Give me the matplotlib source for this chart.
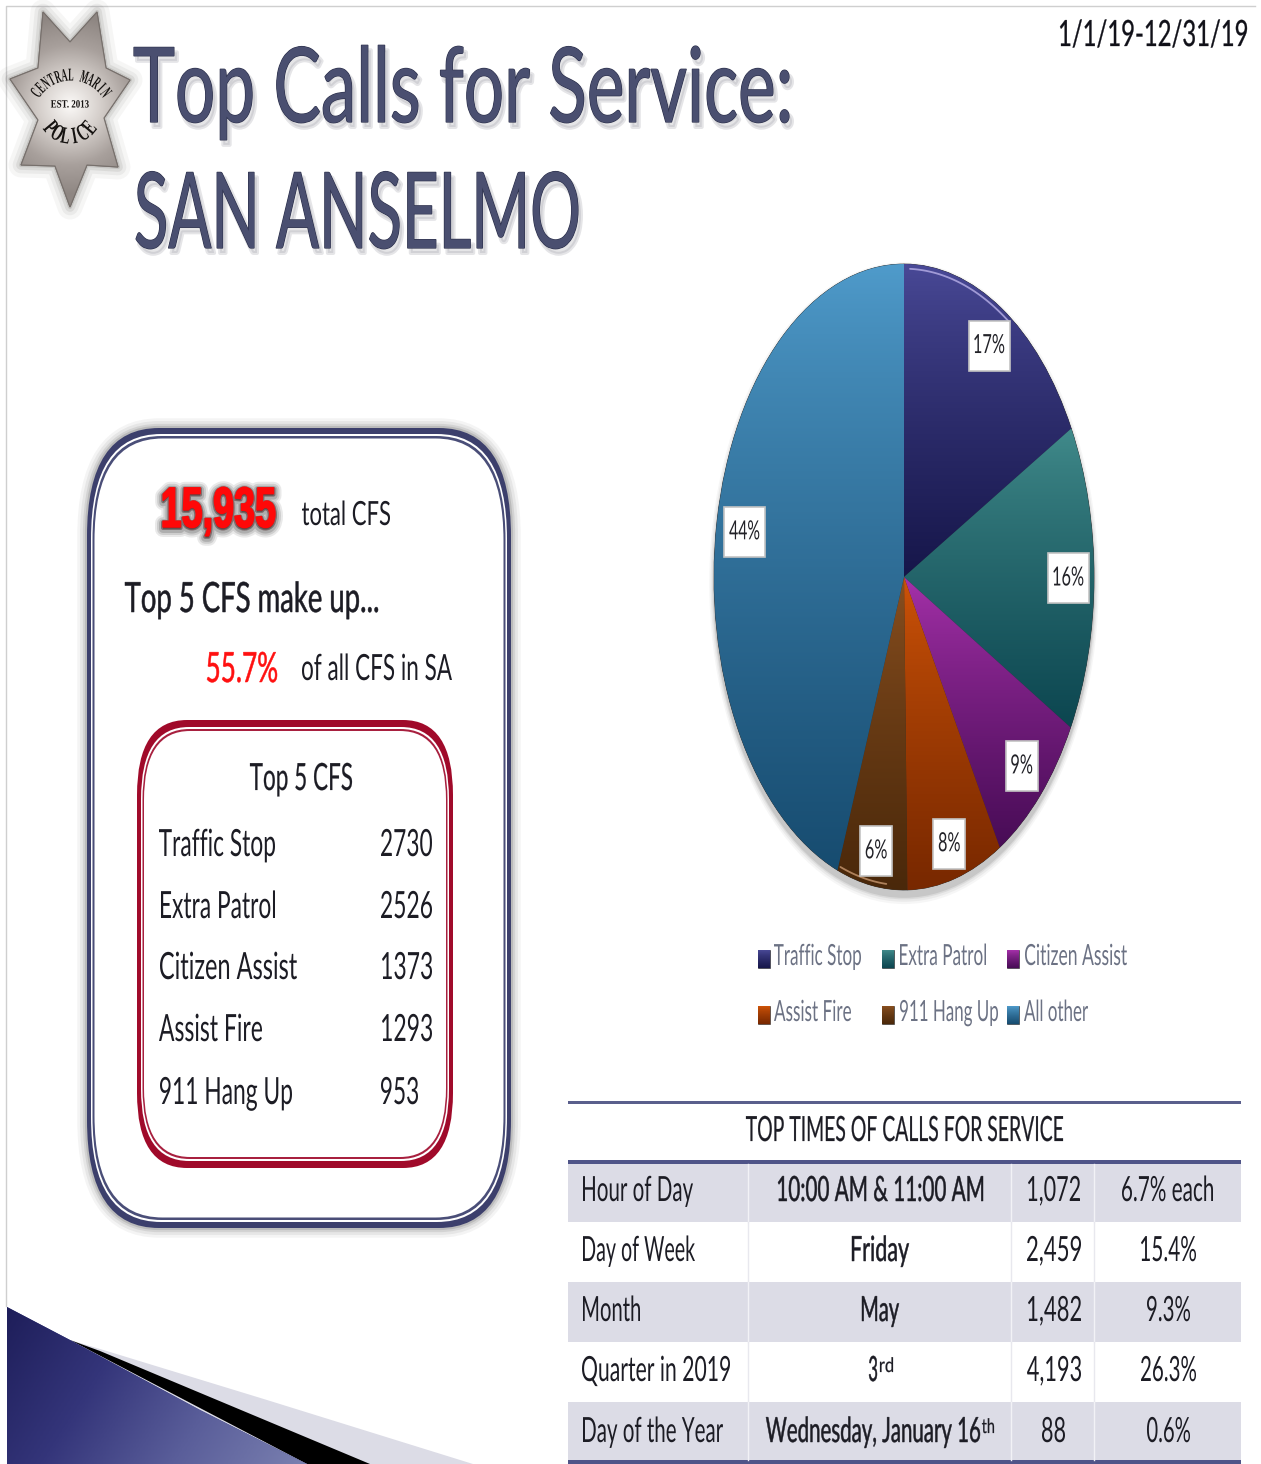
# recreating the san anselmo calls for service slide

import numpy as np
import matplotlib
matplotlib.use('Agg')
import matplotlib.pyplot as plt
from matplotlib.colors import LinearSegmentedColormap, to_rgba
from matplotlib.patches import FancyBboxPatch, Polygon, Rectangle, Ellipse
from matplotlib.patheffects import AbstractPathEffect
from matplotlib.transforms import Affine2D, Bbox

# data

cfs_names = ['Traffic Stop', 'Extra Patrol', 'Citizen Assist', 'Assist Fire', '911 Hang Up']
cfs_counts = [2730, 2526, 1373, 1293, 953]
legend_names = cfs_names + ['All other']
pie_counts = cfs_counts + [7060]

total_cfs = '15,935'
top5_share = '55.7%'
date_range = '1/1/19-12/31/19'

table_title = 'TOP TIMES OF CALLS FOR SERVICE'
table_labels = ['Hour of Day', 'Day of Week', 'Month', 'Quarter in 2019', 'Day of the Year']
table_when = ['10:00 AM & 11:00 AM', 'Friday', 'May', '3', 'Wednesday, January 16']
table_counts = ['1,072', '2,459', '1,482', '4,193', '88']
table_shares = ['6.7% each', '15.4%', '9.3%', '26.3%', '0.6%']

# styles

pie_top = ['#4a4a98', '#428c8c', '#a832ac', '#d05408', '#8a5020', '#509ccc']
pie_bottom = ['#16164a', '#0c4650', '#480c56', '#782800', '#4a280a', '#174c70']
FONT = 'Lato'
SERIF = 'Liberation Serif'
NAVY = '#3a3f5c'


# glyphs in the slide are squeezed a lot, matplotlib has no font stretch so do it here
class Squeeze(AbstractPathEffect):
    def __init__(self, x0, x1, layers):
        super().__init__()
        self.x0, self.x1, self.layers = x0, x1, layers

    def draw_path(self, renderer, gc, tpath, affine, rgbFace=None):
        box = tpath.get_extents(affine)
        aff = affine + Affine2D().translate(-box.x0, 0).scale((self.x1 - self.x0) / box.width, 1).translate(self.x0, 0)
        for dx, dy, col, alpha, lw in self.layers:
            gc0 = renderer.new_gc()
            gc0.copy_properties(gc)
            gc0.set_alpha(alpha)
            gc0.set_foreground(col)
            gc0.set_linewidth(lw * 0.72)
            renderer.draw_path(gc0, tpath, aff + Affine2D().translate(dx, dy), to_rgba(col, alpha))
            gc0.restore()


# same idea for the rotated letters on the badge
class SqueezeGlyph(AbstractPathEffect):
    def __init__(self, sx):
        super().__init__()
        self.sx = sx

    def draw_path(self, renderer, gc, tpath, affine, rgbFace=None):
        e = tpath.get_extents()
        mid = (e.x0 + e.x1) / 2
        pre = Affine2D().translate(-mid, 0).scale(self.sx, 1).translate(mid, 0)
        renderer.draw_path(gc, tpath, pre + affine, rgbFace)


def squeeze_text(t, x0, x1, layers):
    t.set_path_effects([Squeeze(x0, x1, layers)])
    # report the squeezed width, not the width before squeezing
    full_extent = t.get_window_extent

    def squeezed_extent(renderer=None, dpi=None):
        b = full_extent(renderer, dpi)
        return Bbox.from_extents(x0, b.y0, x1, b.y1)

    t.get_window_extent = squeezed_extent


def txt(ax, x0, x1, y, s, size, color='#1c1c24', stroke=0.0, font=FONT, layers=None, weight='normal', zorder=5):
    if layers is None:
        layers = [(0, 0, color, 1, stroke)]
    t = ax.text(x0, y, s, fontsize=size, family=font, weight=weight, color=color, ha='left', va='baseline', zorder=zorder)
    squeeze_text(t, x0, x1, layers)
    return t


def gradient_fill(ax, patch, box, c_top, c_bottom, zorder=2):
    cmap = LinearSegmentedColormap.from_list('g', [c_top, c_bottom])
    ramp = np.linspace(0, 1, 256) ** 0.8
    im = ax.imshow(ramp.reshape(-1, 1), cmap=cmap, extent=box, aspect='auto', vmin=0, vmax=1, zorder=zorder)
    im.set_clip_path(patch)
    return im


def round_box(x0, y0, x1, y1, r, aspect=1.5, **kw):
    return FancyBboxPatch((x0, y0), x1 - x0, y1 - y0, boxstyle='round,pad=0,rounding_size=%g' % r,
                          mutation_aspect=aspect, **kw)


fig = plt.figure(figsize=(12.61, 14.64), dpi=100, facecolor='white')

# whole slide in pixels
ax = fig.add_axes([0, 0, 1, 1])
ax.set_xlim(0, 1261)
ax.set_ylim(1464, 0)
ax.axis('off')

# thin slide frame
ax.plot([6, 6, 1255], [1306, 6, 6], color='#cfcfcf', lw=1)

# bottom left corner swoosh
ax.add_patch(Polygon([(110, 1352), (267, 1400), (473, 1464), (300, 1464), (70, 1340)], fc='#dcdce6', ec='none', zorder=1))
ax.add_patch(Polygon([(70, 1340), (100, 1351), (370, 1464), (307, 1464)], fc='black', ec='none', zorder=2))
blue = Polygon([(7, 1307), (70, 1340), (200, 1410), (307, 1464), (7, 1464)], fc='#3a3d80', ec='none', zorder=3)
ax.add_patch(blue)
gx, gy = np.meshgrid(np.linspace(0, 1, 200), np.linspace(0, 1, 100))
cmap = LinearSegmentedColormap.from_list('corner', ['#1e1e5a', '#34357a', '#5a5e9a', '#7a80b0'])
im = ax.imshow(gx * 0.75 + gy * 0.25, cmap=cmap, extent=(7, 307, 1464, 1307), aspect='auto', zorder=3)
im.set_clip_path(blue)

# badge
star = [(43, 12), (70, 42), (97, 12), (106, 68), (130, 80), (104, 118), (118, 167), (87, 165),
        (70, 207), (55, 166), (21, 165), (38, 120), (10, 79), (38, 68)]
for lw, a in [(18, 0.05), (12, 0.07), (7, 0.1), (3, 0.15)]:
    ax.add_patch(Polygon(star, fc='none', ec='#55504c', lw=lw, alpha=a, joinstyle='round', zorder=2))
star_patch = Polygon(star, fc='#b0a8a4', ec='#77706c', lw=0.8, zorder=3)
ax.add_patch(star_patch)
rx, ry = np.meshgrid(np.linspace(5, 135, 130), np.linspace(5, 212, 207))
dist = np.hypot(rx - 70, ry - 105) / 90
cmap = LinearSegmentedColormap.from_list('badge', ['#fbf9f7', '#d6d0cc', '#a8a09c', '#8e8682'])
im = ax.imshow(np.clip(dist, 0, 1), cmap=cmap, extent=(5, 135, 212, 5), aspect='auto', zorder=3)
im.set_clip_path(star_patch)
ax.add_patch(Polygon(star, fc='none', ec='#77706c', lw=0.8, zorder=4))

for ch, ang in zip('CENTRAL MARIN', np.linspace(-54, 54, 13)):
    px = 71 + 42 * np.sin(np.radians(ang))
    py = 118 - 42 * np.cos(np.radians(ang))
    t = ax.text(px, py, ch, fontsize=13, family=SERIF, weight='bold', color='#151210',
                ha='center', va='center', rotation=-ang, zorder=5)
    t.set_path_effects([SqueezeGlyph(0.45)])
for ch, ang in zip('POLICE', np.linspace(-50, 50, 6)):
    px = 70 + 27 * np.sin(np.radians(ang))
    py = 111 + 27 * np.cos(np.radians(ang))
    t = ax.text(px, py, ch, fontsize=17, family=SERIF, weight='bold', color='#151210',
                ha='center', va='center', rotation=ang, zorder=5)
    t.set_path_effects([SqueezeGlyph(0.58)])
t = ax.text(70, 105, 'EST. 2013', fontsize=8, family=SERIF, weight='bold', color='#151210', ha='center', va='center', zorder=5)
t.set_path_effects([SqueezeGlyph(0.8)])

# heading
title_layers = [(3, -5, '#8a8a96', 0.22, 4), (0, 0, '#2b2f4a', 1, 1.2), (0, 0, '#4a4f70', 1, 0)]
txt(ax, 134, 789, 122, 'Top Calls for Service:', 75, NAVY, layers=title_layers)
txt(ax, 136, 578, 248, 'SAN ANSELMO', 76, NAVY, layers=title_layers)
txt(ax, 1060, 1247, 46, date_range, 26, '#101018', stroke=0.3)

# left rounded boxes, the slide was squashed so the bands are thicker top and bottom
for grow, a in [(14, 0.05), (10, 0.07), (6, 0.1), (3, 0.15)]:
    ax.add_patch(round_box(87, 428, 511, 1228, 72, fc='none', ec='#333333', lw=grow, alpha=a, zorder=1))
ax.add_patch(round_box(87, 428, 511, 1228, 72, fc='#3c3f6c', ec='none', zorder=2))
ax.add_patch(round_box(91, 434, 507, 1222, 70, fc='white', ec='none', zorder=2))
ax.add_patch(round_box(92.5, 436, 505.5, 1220, 69, fc='#4a4e78', ec='none', zorder=2))
ax.add_patch(round_box(94.5, 438.5, 503.5, 1217.5, 68, fc='white', ec='none', zorder=2))

ax.add_patch(round_box(137, 720, 453, 1168, 50, fc='#a00a2a', ec='none', zorder=3))
ax.add_patch(round_box(141, 727, 449, 1161, 48, fc='white', ec='none', zorder=3))
ax.add_patch(round_box(142.5, 729, 447.5, 1159, 47, fc='#a8203f', ec='none', zorder=3))
ax.add_patch(round_box(144, 731, 446, 1157, 46, fc='white', ec='none', zorder=3))

glow = [(0, -2, '#303030', 0.1, 16), (0, -2, '#303030', 0.14, 12), (0, -2, '#303030', 0.2, 8),
        (0, -1, '#402020', 0.45, 4), (0, 0, '#ff0808', 1, 1.5)]
txt(ax, 163, 275, 527, total_cfs, 41, '#ff0808', font='Liberation Sans', weight='bold', layers=glow)
txt(ax, 302, 390, 525, 'total CFS', 24)
txt(ax, 125, 378, 612, 'Top 5 CFS make up...', 30, stroke=0.5)
txt(ax, 207, 277, 682, top5_share, 30, '#ff1010', stroke=0.5)
txt(ax, 302, 452, 680, 'of all CFS in SA', 26)
txt(ax, 250, 352, 790, 'Top 5 CFS', 27, stroke=0.2)

name_left = [159, 161, 160, 159, 160]
name_right = [275, 275, 297, 262, 292]
count_left = [381, 381, 382, 382, 381]
count_right = [432, 432, 432, 432, 418]
row_base = [856, 918, 979, 1041, 1104]
for i in range(5):
    txt(ax, name_left[i], name_right[i], row_base[i], cfs_names[i], 27)
    txt(ax, count_left[i], count_right[i], row_base[i], str(cfs_counts[i]), 27)

# legend, drawn by hand since the text is squeezed
swatch_x = [758, 882, 1007, 758, 882, 1007]
swatch_y = [950, 950, 950, 1006, 1006, 1006]
legend_left = [774, 900, 1025, 774, 900, 1024]
legend_right = [861, 986, 1127, 851, 998, 1088]
legend_base = [965, 965, 965, 1021, 1021, 1021]
for i, name in enumerate(legend_names):
    sw = Rectangle((swatch_x[i], swatch_y[i]), 12, 18, fc=pie_bottom[i], ec='#2a2a2a', lw=0.4, zorder=2)
    ax.add_patch(sw)
    gradient_fill(ax, sw, (swatch_x[i], swatch_x[i] + 12, swatch_y[i] + 18, swatch_y[i]), pie_top[i], pie_bottom[i], zorder=3)
    txt(ax, legend_left[i], legend_right[i], legend_base[i], name, 21, '#6c7284')

# table
row_tops = [1164, 1222, 1282, 1342, 1402, 1460]
col_lines = [748, 1011, 1094]
ax.add_patch(Rectangle((568, 1101), 673, 3, fc='#5a5f8c', ec='none', zorder=2))
ax.add_patch(Rectangle((568, 1160), 673, 4, fc='#4f5488', ec='none', zorder=2))
ax.add_patch(Rectangle((568, 1460), 673, 4, fc='#4f5488', ec='none', zorder=2))
for i in range(5):
    if i % 2 == 0:
        ax.add_patch(Rectangle((568, row_tops[i]), 673, row_tops[i + 1] - row_tops[i], fc='#dcdce6', ec='none', zorder=1))
    for cx in col_lines:
        ax.plot([cx, cx], [row_tops[i], row_tops[i + 1]], color='#f2f2f6' if i % 2 == 0 else '#e8e8ee', lw=1, zorder=2)

txt(ax, 746, 1063, 1141, table_title, 25, stroke=0.2)
label_left = [583, 583, 583, 582, 583]
label_right = [693, 695, 640, 730, 723]
when_left = [778, 852, 862, 869, 766]
when_right = [983, 909, 899, 877, 980]
count_x0 = [1028, 1027, 1028, 1027, 1042]
count_x1 = [1080, 1081, 1081, 1081, 1065]
share_left = [1122, 1141, 1147, 1141, 1147]
share_right = [1213, 1196, 1190, 1196, 1190]
table_base = [1201, 1261, 1321, 1381, 1442]
for i in range(5):
    y = table_base[i]
    txt(ax, label_left[i], label_right[i], y, table_labels[i], 25)
    txt(ax, when_left[i], when_right[i], y, table_when[i], 25, stroke=0.45)
    txt(ax, count_x0[i], count_x1[i], y, table_counts[i], 25)
    txt(ax, share_left[i], share_right[i], y, table_shares[i], 25)
txt(ax, 880, 893, 1372, 'rd', 14.5, stroke=0.2)
txt(ax, 982, 994, 1433, 'th', 14.5, stroke=0.2)

# pie chart, stretched into an ellipse like the slide
pie_box = (714, 264, 1094, 890)
ax2 = fig.add_axes([pie_box[0] / 1261, 1 - pie_box[3] / 1464, (pie_box[2] - pie_box[0]) / 1261, (pie_box[3] - pie_box[1]) / 1464])
ax2.patch.set_alpha(0)

for grow, a in [(0.05, 0.05), (0.035, 0.07), (0.02, 0.1), (0.01, 0.14)]:
    ax2.add_patch(Ellipse((0, -0.02), 2 + grow, 2 + grow, fc='#555555', ec='none', alpha=a, zorder=0, clip_on=False))

wedges, texts, autotexts = ax2.pie(pie_counts, colors=pie_bottom, startangle=90, counterclock=False, radius=1,
                                   autopct='%.0f%%', pctdistance=0.865,
                                   wedgeprops=dict(edgecolor='#2a2a2a', linewidth=0.5))
for w, top, bottom in zip(wedges, pie_top, pie_bottom):
    w.set_zorder(1)
    b = w.get_path().transformed(w.get_patch_transform()).get_extents()
    gradient_fill(ax2, w, (b.x0, b.x1, b.y0, b.y1), top, bottom, zorder=2)

ax2.set_aspect('auto')
ax2.set_xlim(-1, 1)
ax2.set_ylim(-1, 1)
ax2.axis('off')

# bevel highlight on the rim of the top and the bottom wedge
for i, col, t0, t1 in [(0, '#b8b0e8', 0.45, 0.97), (4, '#c89870', 0.03, 0.7)]:
    span = wedges[i].theta2 - wedges[i].theta1
    th = np.radians(wedges[i].theta1 + span * np.linspace(t0, t1, 40))
    ax2.plot(0.985 * np.cos(th), 0.985 * np.sin(th), color=col, lw=1.3, alpha=0.8, zorder=3, solid_capstyle='round')

# white boxes for the percent labels, nudged by eye in pixels
label_dx = [1, 0, 0, 1, 0, 2]
label_dy = [1, 0, 0, 6, 7, 3]
for i, at in enumerate(autotexts):
    px, py = at.get_position()
    px = px + label_dx[i] / 190
    py = py - label_dy[i] / 313
    wide = len(at.get_text()) == 3
    w_px, t_px = (41, 30) if wide else (32, 21)
    ax2.add_patch(Rectangle((px - w_px / 380, py - 25 / 313), w_px / 190, 50 / 313, fc='white', ec='#c4c4c4', lw=1.2, zorder=4))
    cx = ax2.transData.transform((px, py))[0]
    at.set_position((px, py))
    at.set(family=FONT, fontsize=19, color='#222228', zorder=5)
    squeeze_text(at, cx - t_px / 2, cx + t_px / 2, [(0, 0, '#222228', 1, 0)])

fig.savefig('out.png', dpi=100, facecolor='white')
